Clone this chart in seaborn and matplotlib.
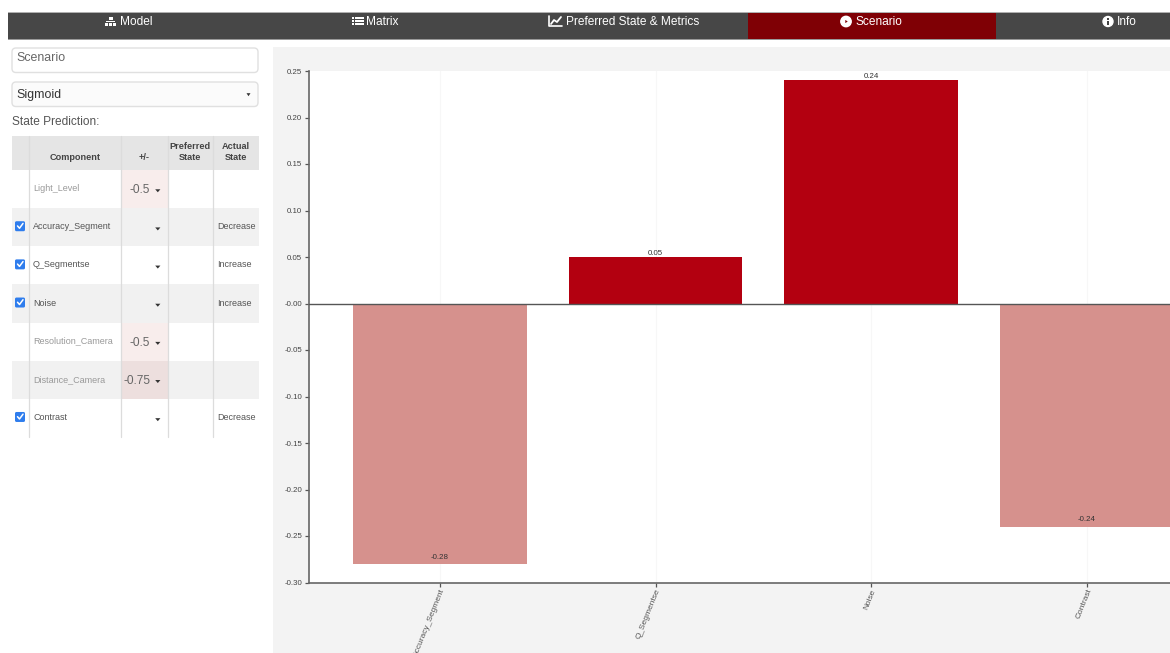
import pandas as pd
import matplotlib
matplotlib.use("Agg")
import matplotlib.pyplot as plt
from matplotlib.patches import Rectangle, FancyBboxPatch, Circle, Polygon
import seaborn as sns

sns.set_style("white")
plt.rcParams['font.family'] = ['Liberation Sans', 'DejaVu Sans']

# chart data
components = ['Accuracy_Segment', 'Q_Segmentse', 'Noise', 'Contrast']
values = [-0.28, 0.05, 0.24, -0.24]
y_ticks = [0.25, 0.20, 0.15, 0.10, 0.05, 0.00, -0.05, -0.10, -0.15, -0.20, -0.25, -0.30]

# side table
row_names = ['Light_Level', 'Accuracy_Segment', 'Q_Segmentse', 'Noise',
             'Resolution_Camera', 'Distance_Camera', 'Contrast']
row_checked = [False, True, True, True, False, False, True]
row_change = ['-0.5', '', '', '', '-0.5', '-0.75', '']
row_actual = ['', 'Decrease', 'Increase', 'Increase', '', '', 'Decrease']

# top menu
menu_labels = ['Model', 'Matrix', 'Preferred State & Metrics', 'Scenario', 'Info']

W, H = 1170, 653
DARK = '#b30010'
LIGHT = '#d6918d'

fig = plt.figure(figsize=(W / 100, H / 100), dpi=100, facecolor='white')

# page chrome in pixel coordinates
bg = fig.add_axes([0, 0, 1, 1], zorder=0)
bg.set_xlim(0, W)
bg.set_ylim(H, 0)
bg.axis('off')


def box(x0, y0, x1, y1, color, **kw):
    bg.add_patch(Rectangle((x0, y0), x1 - x0, y1 - y0, facecolor=color, edgecolor='none', **kw))


def caret(x, y, size=2.6, color='#333333'):
    bg.add_patch(Polygon([(x - size, y - 1.3), (x + size, y - 1.3), (x, y + 1.7)], facecolor=color, edgecolor='none'))


# nav bar
box(8, 13, W, 39, '#474747')
box(8, 12, W, 13, '#b0b0b0')
box(8, 38.5, W, 39.5, '#9a9a9a')
box(748, 13, 996, 39, '#7f0005')
menu_x = [136, 382, 632.5, 878.5, 1126.5]
for name, x in zip(menu_labels, menu_x):
    bg.text(x, 22, name, color='white', fontsize=8.6, ha='center', va='center')

# little menu icons
box(108.5, 16.5, 112.5, 20, 'white')
box(105, 22.5, 108, 26, 'white')
box(109, 22.5, 112, 26, 'white')
box(113, 22.5, 116, 26, 'white')
box(106, 20.5, 115, 21.5, 'white')
for i in range(4):
    for j in range(3):
        box(352 + i * 3.1, 16.5 + j * 3.1, 354.4 + i * 3.1, 18.9 + j * 3.1, 'white')
bg.plot([549, 549, 562], [16, 26, 26], color='white', lw=1.2)
bg.plot([551, 554, 557, 561], [24, 20, 22, 17], color='white', lw=1.3)
bg.add_patch(Circle((846, 21.5), 5.2, color='white'))
bg.add_patch(Polygon([(844.6, 18.6), (844.6, 24.4), (849, 21.5)], facecolor='#7f0005'))
bg.add_patch(Circle((1108, 21.5), 5, color='white'))
box(1107.2, 20.5, 1108.8, 25, '#444444')
box(1107.2, 18, 1108.8, 19.5, '#444444')

# inputs on the left
for y0, label, tcolor in [(47, 'Scenario', '#666666'), (81, 'Sigmoid', '#333333')]:
    bg.add_patch(FancyBboxPatch((12, y0 + 1), 246, 24.5, boxstyle='round,pad=0,rounding_size=4',
                                facecolor='white' if y0 == 47 else '#fbfbfb', edgecolor='#e0e0e0', lw=1.0))
    bg.text(16, y0 + 11 if y0 == 47 else y0 + 14, label, color=tcolor, fontsize=8.9, va='center')
caret(248.5, 94.5, 2.0)
bg.text(12, 122, 'State Prediction:', color='#555555', fontsize=8.6, va='center')

# table
col_lines = [28.5, 121, 167.5, 213]
box(12, 136, 258.5, 170, '#e5e5e5')
bg.text(75, 158, 'Component', color='#444444', fontsize=6.6, fontweight='bold', ha='center', va='center')
bg.text(144.5, 158, '+/-', color='#444444', fontsize=6.6, fontweight='bold', ha='center', va='center')
bg.text(190, 152, 'Preferred\nState', color='#444444', fontsize=6.6, fontweight='bold', ha='center', va='center', linespacing=1.25)
bg.text(236, 152, 'Actual\nState', color='#444444', fontsize=6.6, fontweight='bold', ha='center', va='center', linespacing=1.25)

row_h = 38.15
for i, name in enumerate(row_names):
    top = 170 + i * row_h
    mid = top + row_h / 2 - 0.5
    if i % 2 == 1:
        box(12, top, 258.5, top + row_h, '#f1f1f1')
    if row_change[i] == '-0.75':
        box(121, top, 167.5, top + row_h, '#eddfde')
    elif row_change[i]:
        box(121, top, 167.5, top + row_h, '#f8edec')
    tcolor = '#555555' if row_checked[i] else '#999999'
    bg.text(33, mid, name, color=tcolor, fontsize=6.5, va='center')
    if row_checked[i]:
        bg.add_patch(FancyBboxPatch((15, mid - 5.5), 10, 10, boxstyle='round,pad=0,rounding_size=1.5',
                                    facecolor='#2f7ded', edgecolor='none'))
        bg.plot([17.5, 19.5, 23], [mid - 0.8, mid + 1.5, mid - 3.3], color='white', lw=1.1)
    if row_change[i]:
        bg.text(150, mid + 1.5, row_change[i], color='#666666', fontsize=8.6, ha='right', va='center')
    caret(157.8, mid + 2)
    if row_actual[i]:
        bg.text(217.5, mid, row_actual[i], color='#555555', fontsize=6.5, va='center')
for x in col_lines:
    bg.plot([x, x], [136, 437], color='#dcdcdc', lw=0.9)

# grey panel behind the chart
box(273, 47, W, H, '#f3f3f3')

# chart area, runs off the right edge like the screenshot
ax_left, ax_top, ax_bottom = 309, 71, 582.5
ax = fig.add_axes([ax_left / W, 1 - ax_bottom / H, (W - ax_left) / W, (ax_bottom - ax_top) / H],
                  facecolor='white', zorder=1)

df = pd.DataFrame({'component': components, 'value': values})
df['sign'] = ['pos' if v > 0 else 'neg' for v in values]
sns.barplot(data=df, x='component', y='value', hue='sign', hue_order=['pos', 'neg'],
            palette={'pos': DARK, 'neg': LIGHT}, dodge=False, width=0.803, legend=False,
            saturation=1, linewidth=0, ax=ax, zorder=2)

ax.set_xlim(-131 / 215.5, (W - 440) / 215.5)
ax.set_ylim(-0.30, 0.25)
ax.set_xlabel('')
ax.set_ylabel('')
ax.set_yticks(y_ticks)
ax.set_yticklabels(['%.2f' % t if t != 0 else '-0.00' for t in y_ticks], fontsize=5.7, color='#444444')
ax.set_xticks(range(len(components)))
ax.set_xticklabels(components, fontsize=6.0, color='#555555', rotation=68, ha='right', va='top',
                   rotation_mode='anchor')
ax.tick_params(axis='y', length=3, width=0.9, color='#555555', pad=2, left=True)
ax.tick_params(axis='x', length=3, width=0.9, color='#555555', pad=1, bottom=True)
ax.grid(axis='x', color='#f7f7f7', lw=0.8, zorder=0)
ax.axhline(0, color='#555555', lw=1.0, zorder=3)
for side in ['top', 'right']:
    ax.spines[side].set_visible(False)
for side in ['left', 'bottom']:
    ax.spines[side].set_color('#666666')
    ax.spines[side].set_linewidth(1.2)

for i, v in enumerate(values):
    ax.text(i, v + (0.0005 if v > 0 else 0.0035), '%.2f' % v, fontsize=5.7, color='#333333', ha='center', va='bottom')

fig.savefig('out.png', dpi=100, facecolor='white')
